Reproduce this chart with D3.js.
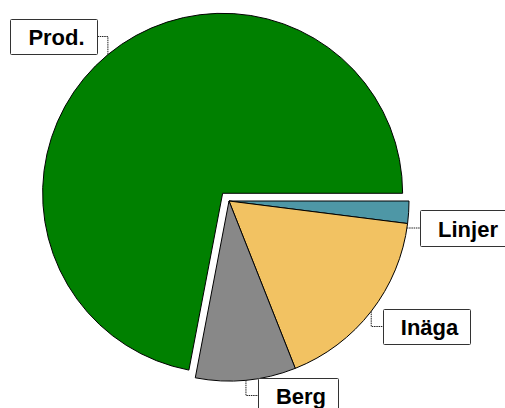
<!DOCTYPE html>
<html lang="en">
    <head>
        <meta charset="utf-8">
        <script src="https://cdn.jsdelivr.net/npm/d3@7"></script>
        <style>
            body { margin: 0; background: #fff; }
        </style>
    </head>
    <body>
        <svg id="mysvg" width="505" height="408"></svg>

        <script>

        // data
        var categories = ["Linjer", "Inäga", "Berg", "Prod."]
        var values = [2, 17, 9, 72]
        var colors = ["#4E97A6", "#F2C262", "#888888", "#008000"]
        var exploded = ["Prod."]

        // label boxes (layout only)
        var boxes = {
            "Prod.":  {x: 10,  y: 19,  w: 87, h: 35, side: "left"},
            "Linjer": {x: 420, y: 210, w: 90, h: 36, side: "right", angle: 98.6},
            "Inäga":  {x: 383, y: 309, w: 87, h: 35, side: "right"},
            "Berg":   {x: 258, y: 378, w: 80, h: 35, side: "right"}
        }

        var cx = 229, cy = 201, R = 180, explode = 10

        var svg = d3.select("#mysvg")

        var pie = d3.pie()
            .sort(null)
            .startAngle(Math.PI / 2)
            .endAngle(Math.PI / 2 + 2 * Math.PI)
            .value(function(d) { return d })

        var arc = d3.arc().innerRadius(0).outerRadius(R)

        var arcs = pie(values)

        function offset(d, i) {
            if (exploded.indexOf(categories[i]) < 0) return [0, 0]
            var a = (d.startAngle + d.endAngle) / 2
            return [Math.sin(a) * explode, -Math.cos(a) * explode]
        }

        var g = svg.append("g").attr("transform", "translate(" + cx + "," + cy + ")")

        g.selectAll("path.slice")
            .data(arcs)
            .enter().append("path")
            .attr("class", "slice")
            .attr("d", arc)
            .attr("transform", function(d, i) {
                var o = offset(d, i)
                return "translate(" + o[0] + "," + o[1] + ")"
            })
            .style("fill", function(d, i) { return colors[i] })
            .style("stroke", "black")
            .style("stroke-width", 1)

        // labels with elbow leaders
        arcs.forEach(function(d, i) {
            var name = categories[i]
            var b = boxes[name]
            var o = offset(d, i)
            var a = b.angle != null ? b.angle * Math.PI / 180 : (d.startAngle + d.endAngle) / 2
            var ax = cx + o[0] + Math.sin(a) * R
            var ay = cy + o[1] - Math.cos(a) * R
            var my = b.y + b.h / 2
            var ex = b.side == "left" ? b.x + b.w : b.x

            svg.append("path")
                .attr("d", d3.line()([[ax, ay], [ax, my], [ex, my]]))
                .style("fill", "none")
                .style("stroke", "#222")
                .style("stroke-width", 1)
                .style("stroke-dasharray", "1.5,0.75")

            svg.append("rect")
                .attr("x", b.x + 0.5)
                .attr("y", b.y + 0.5)
                .attr("width", b.w)
                .attr("height", b.h)
                .attr("rx", 1)
                .style("fill", "white")
                .style("stroke", "#333")
                .style("stroke-width", 1)

            svg.append("text")
                .attr("x", b.x + b.w / 2 + 3)
                .attr("y", my + 1)
                .attr("text-anchor", "middle")
                .attr("dominant-baseline", "central")
                .style("font-family", "'Liberation Sans', Arial, sans-serif")
                .style("font-weight", "bold")
                .style("font-size", "22px")
                .text(name)
        })
        </script>
    </body>
</html>
